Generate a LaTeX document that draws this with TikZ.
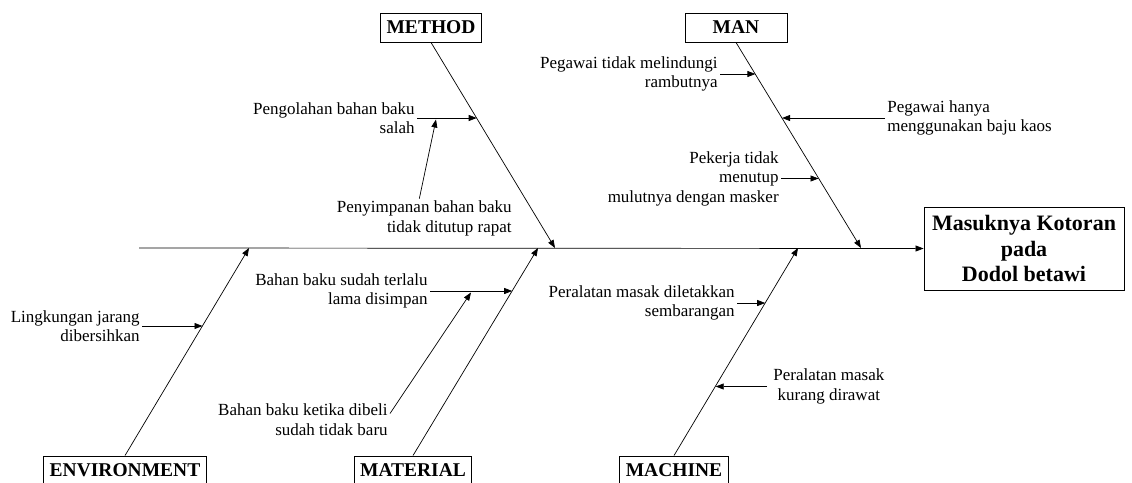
\documentclass[tikz,border=0pt]{standalone}
\usepackage{fontspec}
\setmainfont{Liberation Serif}
\usepackage{tikz}
\usetikzlibrary{arrows.meta}
\usetikzlibrary{calc}

\begin{document}
\begin{tikzpicture}[x=1pt,y=-1pt,line width=0.7pt,>={Triangle[length=8pt,width=6pt]},
            kategori/.style={draw,line width=0.9pt,font=\fontsize{19.5}{22}\selectfont\bfseries,minimum height=29pt,inner xsep=6pt,inner ysep=0pt},
            sebab/.style={font=\fontsize{17}{19.5}\selectfont,inner sep=2pt}]
            \useasboundingbox (0,0) rectangle (1132,482);
            \node[kategori] (method) at (431,27.5) {METHOD};
            \node[kategori,minimum width=102pt] (man) at (736,27.5) {MAN};
            \node[kategori] (env) at (125,470.5) {ENVIRONMENT};
            \node[kategori] (material) at (413,470.5) {MATERIAL};
            \node[kategori] (machine) at (674,470.5) {MACHINE};
            \node[draw,line width=0.9pt,font=\fontsize{22}{25.5}\selectfont\bfseries,align=center,minimum width=200pt,minimum height=83pt] (akibat) at (1024,248.5) {Masuknya Kotoran\\pada\\Dodol betawi};
            \coordinate (ekor) at (139,248);
            \draw[->] (ekor) -- (akibat.west);
            \coordinate (t-method) at (555,248);
            \coordinate (t-man) at (861,248);
            \coordinate (t-env) at (249,248);
            \coordinate (t-material) at (538,248);
            \coordinate (t-machine) at (798,248);
            \draw[->] (method.south) -- (t-method);
            \draw[->] (man.south) -- (t-man);
            \draw[->] (env.north) -- (t-env);
            \draw[->] (material.north) -- (t-material);
            \draw[->] (machine.north) -- (t-machine);
            \node[sebab,anchor=east,align=right] (olah) at (417,118) {Pengolahan bahan baku\\salah};
            \coordinate (b-olah) at (476.7,118);
            \draw[->] (olah.east) -- (b-olah);
            \node[sebab,anchor=east,align=right] (simpan) at (514,218.5) {Penyimpanan bahan baku\\tidak ditutup rapat};
            \coordinate (c-simpan) at (436,119.5);
            \draw[->] ([xshift=-5pt]simpan.north) -- (c-simpan);
            \node[sebab,anchor=east,align=right] (rambut) at (720,74) {Pegawai tidak melindungi\\rambutnya};
            \coordinate (b-rambut) at (755.4,74);
            \draw[->] (rambut.east) -- (b-rambut);
            \node[sebab,anchor=west,align=left] (kaos) at (885,118) {Pegawai hanya\\menggunakan baju kaos};
            \coordinate (b-kaos) at (782.1,118);
            \draw[->] (kaos.west) -- (b-kaos);
            \node[sebab,anchor=east,align=right] (masker) at (781,178.5) {Pekerja tidak\\menutup\\mulutnya dengan masker};
            \coordinate (b-masker) at (818.5,178.5);
            \draw[->] (masker.east) -- (b-masker);
            \node[sebab,anchor=east,align=right] (bersih) at (142,326) {Lingkungan jarang\\dibersihkan};
            \coordinate (b-bersih) at (202.5,326);
            \draw[->] (bersih.east) -- (b-bersih);
            \node[sebab,anchor=east,align=right] (lama) at (430,291) {Bahan baku sudah terlalu\\lama disimpan};
            \coordinate (b-lama) at (512.2,291);
            \draw[->] (lama.east) -- (b-lama);
            \node[sebab,anchor=east,align=right] (dibeli) at (390,419.5) {Bahan baku ketika dibeli\\sudah tidak baru};
            \coordinate (c-dibeli) at (471,292.5);
            \draw[->] ([yshift=6pt]dibeli.east) -- (c-dibeli);
            \node[sebab,anchor=east,align=right] (letak) at (737,303) {Peralatan masak diletakkan\\sembarangan};
            \coordinate (b-letak) at (765.2,303);
            \draw[->] (letak.east) -- (b-letak);
            \node[sebab,anchor=west,align=center,inner xsep=6pt] (rawat) at (767,386.5) {Peralatan masak\\kurang dirawat};
            \coordinate (b-rawat) at (715.7,386.5);
            \draw[->] (rawat.west) -- (b-rawat);
        \end{tikzpicture}
\end{document}
